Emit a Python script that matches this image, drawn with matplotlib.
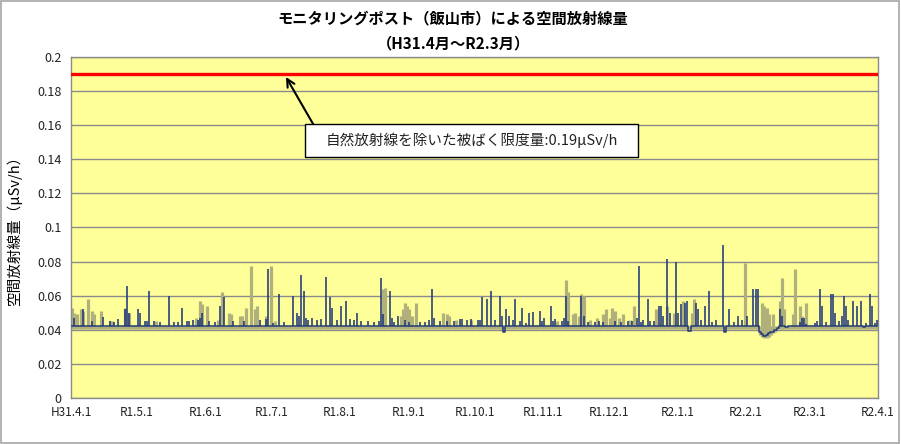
import numpy as np
import pandas as pd
import matplotlib.pyplot as plt
import matplotlib.dates as mdates
from matplotlib.patches import Rectangle

plt.rcParams['font.family'] = ['Noto Sans CJK JP', 'DejaVu Sans']

# daily readings from H31.4.1 (2019-04-01) to R2.3.31
start = '2019-04-01'
n_days = 366

# grey series: usual daily band and the days that stood out
gray_floor = 0.0405
gray_top = 0.0425
gray_spike_day = [0, 1, 2, 4, 5, 7, 9, 10, 13, 17, 18, 24, 26, 38, 56, 57, 58, 59, 61, 66,
                  68, 71, 72, 76, 77, 79, 81, 83, 84, 88, 90, 92, 141, 142, 149, 150, 151,
                  152, 153, 154, 156, 168, 170, 171, 174, 181, 220, 224, 225, 227, 228, 230,
                  231, 232, 235, 238, 241, 242, 244, 245, 246, 248, 250, 253, 255, 265, 270,
                  273, 277, 281, 282, 305, 313, 314, 315, 316, 318, 321, 322, 323, 327, 328,
                  330, 331, 333]
gray_spike_val = [0.053, 0.050, 0.049, 0.052, 0.051, 0.058, 0.051, 0.049, 0.051, 0.045,
                  0.045, 0.053, 0.050, 0.045, 0.047, 0.046, 0.057, 0.055, 0.054, 0.046,
                  0.062, 0.050, 0.049, 0.048, 0.048, 0.053, 0.0777, 0.052, 0.054, 0.048,
                  0.0777, 0.045, 0.0638, 0.0648, 0.048, 0.052, 0.0555, 0.054, 0.052, 0.048,
                  0.056, 0.050, 0.049, 0.048, 0.046, 0.046, 0.045, 0.069, 0.062, 0.049,
                  0.050, 0.048, 0.061, 0.0596, 0.046, 0.047, 0.049, 0.052, 0.047, 0.053,
                  0.051, 0.047, 0.049, 0.046, 0.054, 0.052, 0.054, 0.050, 0.057, 0.050,
                  0.058, 0.079, 0.056, 0.054, 0.053, 0.049, 0.049, 0.057, 0.0703, 0.052,
                  0.049, 0.0759, 0.054, 0.048, 0.056]
gray_dip_day = [312, 313, 314, 315, 316, 317, 318, 319]
gray_dip_val = [0.037, 0.036, 0.035, 0.035, 0.036, 0.037, 0.038, 0.039]

# blue series
blue_level = 0.0425
blue_day = [1, 5, 9, 14, 17, 19, 21, 24, 25, 26, 30, 31, 33, 34, 35, 37, 40, 44, 46, 48,
            50, 52, 53, 55, 57, 58, 59, 62, 65, 67, 69, 73, 78, 85, 88, 89, 91, 94, 96, 100,
            102, 103, 104, 105, 106, 107, 109, 111, 113, 115, 117, 118, 120, 122, 124, 126,
            128, 129, 131, 134, 137, 139, 140, 141, 144, 145, 146, 148, 151, 153, 158, 160,
            162, 163, 164, 167, 170, 173, 176, 177, 179, 181, 184, 185, 186, 188, 190, 192,
            194, 195, 196, 197, 198, 200, 201, 203, 204, 206, 207, 209, 212, 213, 214, 217,
            218, 219, 222, 223, 224, 225, 231, 232, 234, 237, 239, 241, 246, 249, 252, 254,
            256, 257, 258, 259, 261, 262, 264, 266, 267, 268, 270, 271, 274, 275, 276, 278,
            279, 280, 283, 284, 285, 287, 289, 290, 292, 295, 296, 298, 300, 302, 304, 306,
            309, 310, 311, 312, 313, 314, 315, 316, 317, 318, 319, 320, 321, 322, 324, 326,
            330, 331, 332, 333, 337, 338, 339, 340, 342, 344, 345, 346, 348, 349, 350, 351,
            352, 354, 356, 358, 359, 360, 362, 363, 364, 365]
blue_val = [0.047, 0.052, 0.045, 0.0475, 0.045, 0.0445, 0.0465, 0.052, 0.0658, 0.050,
            0.052, 0.050, 0.045, 0.045, 0.0629, 0.045, 0.0445, 0.060, 0.0445, 0.0445,
            0.053, 0.045, 0.045, 0.0455, 0.046, 0.047, 0.050, 0.045, 0.0445, 0.054,
            0.059, 0.045, 0.045, 0.046, 0.0465, 0.0759, 0.044, 0.061, 0.0445, 0.060,
            0.050, 0.048, 0.072, 0.063, 0.047, 0.046, 0.047, 0.046, 0.0465, 0.0712,
            0.059, 0.053, 0.046, 0.054, 0.057, 0.0465, 0.046, 0.050, 0.045, 0.045,
            0.0445, 0.045, 0.0703, 0.049, 0.063, 0.047, 0.0445, 0.048, 0.046, 0.0445,
            0.0445, 0.0445, 0.046, 0.0638, 0.047, 0.045, 0.045, 0.045, 0.0465, 0.0465,
            0.046, 0.0465, 0.046, 0.046, 0.059, 0.058, 0.0629, 0.0455, 0.0596, 0.0483,
            0.039, 0.052, 0.048, 0.0455, 0.058, 0.045, 0.053, 0.044, 0.050, 0.0505,
            0.051, 0.045, 0.047, 0.054, 0.045, 0.0465, 0.045, 0.047, 0.060, 0.045,
            0.0596, 0.048, 0.0445, 0.0445, 0.045, 0.0445, 0.045, 0.0445, 0.045, 0.045,
            0.047, 0.0777, 0.0445, 0.046, 0.058, 0.045, 0.045, 0.054, 0.054, 0.048,
            0.0813, 0.050, 0.080, 0.050, 0.055, 0.056, 0.057, 0.0395, 0.056, 0.052,
            0.046, 0.054, 0.0629, 0.0445, 0.046, 0.090, 0.039, 0.052, 0.0445, 0.048,
            0.046, 0.048, 0.0638, 0.0638, 0.0638, 0.039, 0.0375, 0.0365, 0.037, 0.038,
            0.0385, 0.039, 0.040, 0.041, 0.052, 0.0483, 0.0415, 0.042, 0.0445, 0.047,
            0.047, 0.0435, 0.044, 0.045, 0.0638, 0.054, 0.0445, 0.061, 0.061, 0.050,
            0.045, 0.048, 0.060, 0.054, 0.046, 0.057, 0.054, 0.057, 0.0415, 0.044,
            0.061, 0.054, 0.044, 0.0455]

limit = 0.19
month_labels = ['H31.4.1', 'R1.5.1', 'R1.6.1', 'R1.7.1', 'R1.8.1', 'R1.9.1', 'R1.10.1',
                'R1.11.1', 'R1.12.1', 'R2.1.1', 'R2.2.1', 'R2.3.1', 'R2.4.1']
y_ticks = [0, 0.02, 0.04, 0.06, 0.08, 0.1, 0.12, 0.14, 0.16, 0.18, 0.2]
y_labels = ['0', '0.02', '0.04', '0.06', '0.08', '0.1', '0.12', '0.14', '0.16', '0.18', '0.2']

# build the daily arrays
days = pd.date_range(start, periods=n_days, freq='D')
gray_low = np.full(n_days, gray_floor)
gray_low[gray_dip_day] = gray_dip_val
gray_high = np.full(n_days, gray_top)
gray_high[gray_spike_day] = gray_spike_val
blue = np.full(n_days, blue_level)
blue[blue_day] = blue_val
blue_base = np.minimum(blue, blue_level)  # trace along the bottom, peaks drawn as needles

fig = plt.figure(figsize=(9.01, 4.44), dpi=100)
fig.patches.append(Rectangle((0.001, 0.002), 0.997, 0.996, transform=fig.transFigure,
                             fill=False, ec='#a6a6a6', lw=1.2))
ax = fig.add_axes([71 / 901, 1 - 398 / 444, 807 / 901, 341 / 444])
ax.set_facecolor('#FFFF99')

x = mdates.date2num(days) + 0.5
ax.vlines(x, gray_low, gray_high, colors='#b0b07c', lw=2.3, zorder=2)
ax.step(x, blue_base, where='mid', color='#22397a', lw=1.1, zorder=3)
up = blue > blue_level
ax.vlines(x[up], blue_level, blue[up], colors='#22397a', lw=1.15, zorder=3)
ax.axhline(limit, color='#ff0000', lw=2.4, zorder=4)

ax.set_ylim(0, 0.2)
ax.set_yticks(y_ticks)
ax.set_yticklabels(y_labels)
ticks = pd.date_range(start, periods=len(month_labels), freq='MS')
ax.set_xlim(mdates.date2num(ticks[0]), mdates.date2num(ticks[-1]))
ax.set_xticks(mdates.date2num(ticks))
ax.set_xticklabels(month_labels)
ax.tick_params(axis='both', length=0, labelsize=9, colors='#222222')
ax.tick_params(axis='y', pad=7)
ax.tick_params(axis='x', pad=6, labelsize=8.5)
ax.yaxis.grid(True, color='#8a8a8a', lw=1.0)
ax.set_axisbelow(True)
for s in ax.spines.values():
    s.set_color('#8a8a8a')
    s.set_linewidth(1.0)

ax.set_ylabel('空間放射線量（μSv/h）', fontsize=10.5)
ax.yaxis.set_label_coords((22 - 71) / 807, 0.5)

fig.text(0.503, 0.959, 'モニタリングポスト（飯山市）による空間放射線量', ha='center', va='center',
         fontsize=11, fontweight='bold')
fig.text(0.503, 0.901, '（H31.4月～R2.3月）', ha='center', va='center',
         fontsize=11, fontweight='bold')

# annotation box pointing at the limit line
ax.add_patch(Rectangle((0.290, 0.7067), 0.4126, 0.0968, transform=ax.transAxes,
                       facecolor='white', edgecolor='black', lw=1.0, zorder=6))
ax.text(0.4963, 0.755, '自然放射線を除いた被ばく限度量:0.19μSv/h', transform=ax.transAxes,
        ha='center', va='center', fontsize=10.5, color='#222222', zorder=7)
ax.annotate('', xy=(0.2664, 0.9413), xytext=(0.300, 0.8035), xycoords='axes fraction',
            arrowprops=dict(arrowstyle='->', color='black', lw=1.5, mutation_scale=14,
                            shrinkA=0, shrinkB=0), zorder=8)

fig.savefig('out.png', dpi=100)
